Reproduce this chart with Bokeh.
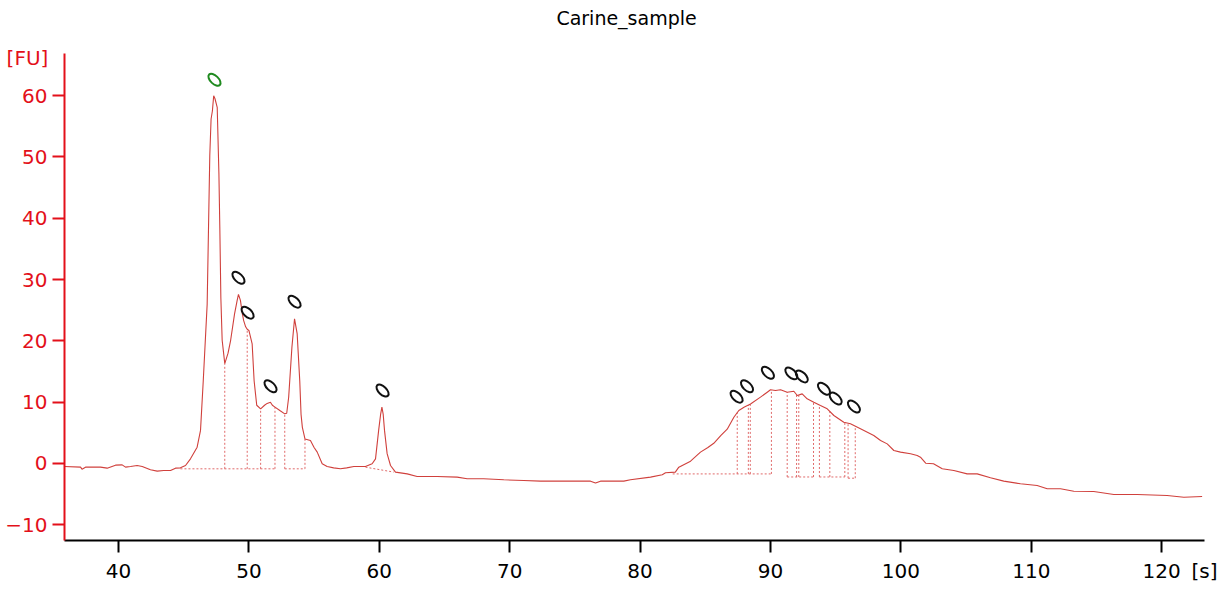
import numpy as np
from bokeh.plotting import figure
from bokeh.models import Range1d, Label, FixedTicker
from bokeh.embed import file_html
from bokeh.resources import INLINE

# ---- data ----
time_s = [35.86, 37.09, 37.2, 37.47, 38.62, 39.13, 39.77, 40.28, 40.54, 40.92, 41.43, 41.82,
          42.45, 42.97, 43.47, 43.99, 44.37, 44.75, 45.14, 45.52, 46.03, 46.29, 46.5, 46.8,
          47.0, 47.1, 47.2, 47.3, 47.4, 47.57, 47.7, 47.77, 47.85, 47.95, 48.15, 48.4, 48.6,
          48.9, 49.1, 49.2, 49.35, 49.5, 49.6, 49.75, 49.87, 50.0, 50.25, 50.4, 50.6, 50.9,
          51.2, 51.4, 51.65, 51.8, 52.0, 52.4, 52.75, 52.9, 53.05, 53.3, 53.5, 53.7, 53.9,
          54.0, 54.1, 54.3, 54.72, 55.0, 55.24, 55.62, 56.0, 56.5, 57.02, 57.5, 58.05, 58.94,
          59.45, 59.71, 59.95, 60.1, 60.2, 60.3, 60.4, 60.6, 60.86, 61.24, 62.14, 62.9, 64.44,
          65.97, 66.74, 68.0, 69.55, 71.08, 72.36, 76.2, 76.58, 76.96, 78.75, 79.26, 80.8,
          81.7, 81.95, 82.7, 82.97, 83.87, 84.63, 85.2, 85.65, 86.2, 86.68, 87.19, 87.57,
          88.0, 88.47, 89.23, 89.75, 90.0, 90.38, 90.77, 91.28, 91.79, 92.05, 92.43, 92.81,
          93.32, 93.83, 94.35, 94.86, 95.62, 96.13, 96.9, 97.92, 98.44, 98.95, 99.46, 99.97,
          100.74, 101.25, 101.5, 101.9, 102.5, 103.17, 104.06, 105.08, 105.85, 106.87,
          107.89, 109.17, 110.45, 111.22, 112.24, 113.26, 114.79, 116.33, 118.12, 120.42,
          121.7, 123.1]
fu = [-0.5, -0.6, -0.93, -0.6, -0.6, -0.76, -0.27, -0.22, -0.6, -0.49, -0.33, -0.49,
      -1.03, -1.25, -1.14, -1.14, -0.76, -0.71, -0.33, 0.76, 2.66, 5.4, 13.5, 26.0,
      50.2, 56.2, 57.5, 60.0, 59.5, 58.1, 47.3, 38.5, 27.0, 20.1, 16.3, 18.0, 20.1,
      24.4, 26.6, 27.6, 26.6, 24.4, 23.3, 22.3, 21.9, 21.7, 19.5, 13.5, 9.5, 8.9,
      9.5, 9.8, 10.0, 9.5, 9.2, 8.6, 8.1, 8.2, 10.8, 19.0, 23.6, 21.2, 13.5,
      8.0, 5.9, 4.0, 3.75, 2.6, 1.85, -0.05, -0.49, -0.71, -0.87, -0.71, -0.49, -0.49,
      -0.05, 0.76, 5.4, 8.0, 9.2, 8.0, 5.4, 1.6, -0.33, -1.41, -1.69, -2.12, -2.12,
      -2.23, -2.5, -2.5, -2.66, -2.77, -2.88, -2.88, -3.2, -2.88, -2.88, -2.66, -2.23,
      -1.85, -1.52, -1.41, -0.6, 0.38, 1.85, 2.6, 3.3, 4.6, 5.6, 7.55, 8.65,
      9.2, 9.7, 10.82, 11.63, 12.02, 11.9, 12.02, 11.63, 11.79, 11.09, 11.36, 10.55,
      10.0, 9.46, 8.92, 7.83, 6.74, 6.47, 5.66, 4.57, 3.75, 3.2, 2.12, 1.85,
      1.58, 1.31, 1.03, 0.05, -0.05, -0.87, -1.14, -1.69, -1.69, -2.34,
      -2.88, -3.31, -3.59, -4.13, -4.13, -4.52, -4.57, -5.06, -5.06, -5.22,
      -5.5, -5.38]

# peak markers
peak_t = [47.36, 49.2, 49.9, 53.5, 51.66, 60.25, 87.4, 88.2, 89.8, 91.6, 92.4, 94.1, 95.0, 96.4]
peak_fu = [62.6, 30.3, 24.6, 26.4, 12.6, 11.9, 10.9, 12.6, 14.8, 14.7, 14.2, 12.2, 10.6, 9.3]
peak_kind = ["green"] + ["black"] * 13

# integration boundaries (vertical dotted lines): time and baseline level
bound_t = [48.15, 49.87, 50.9, 52.0, 52.75, 54.3,
           87.45, 88.3, 88.45, 90.07, 91.28, 92.0, 92.17, 93.3, 93.75, 94.55, 95.7, 95.95, 96.5]
bound_base = [-0.87, -0.87, -0.87, -0.87, -0.87, -0.87,
              -1.7, -1.7, -1.7, -1.7, -2.2, -2.2, -2.2, -2.2, -2.2, -2.2, -2.2, -2.4, -2.4]

# integration baselines (dotted)
base_t0 = [44.75, 52.75, 58.94, 82.5, 91.28, 93.75, 95.95]
base_t1 = [52.0, 54.3, 61.1, 90.07, 93.3, 95.7, 96.5]
base_y0 = [-0.87, -0.87, -0.6, -1.7, -2.2, -2.2, -2.4]
base_y1 = [-0.87, -0.87, -1.4, -1.7, -2.2, -2.2, -2.4]

x_ticks = [40, 50, 60, 70, 80, 90, 100, 110, 120]
y_ticks = [-10, 0, 10, 20, 30, 40, 50, 60]
x_axis_span = (35.86, 123.25)
y_axis_span = (-12.56, 66.88)

title_text = "Carine_sample"
y_unit = "[FU]"
x_unit = "[s]"

RED_AX = "#e3101a"
TRACE = "#d0403c"
DOTTED = "#e06a6a"
FONT = "DejaVu Sans"

# the frame covers the whole canvas; axes are pinned with fixed_location
p = figure(width=1221, height=590, output_backend="svg", toolbar_location=None,
           x_range=Range1d(30.951, 124.586), y_range=Range1d(-20.72, 75.53),
           min_border_left=0, min_border_right=0, min_border_top=0, min_border_bottom=0)
p.grid.visible = False
p.outline_line_color = None
p.background_fill_color = "white"
p.border_fill_color = "white"

xa = p.xaxis[0]
xa.fixed_location = y_axis_span[0]
xa.bounds = x_axis_span
xa.ticker = FixedTicker(ticks=x_ticks)
xa.axis_line_color = "black"
xa.axis_line_width = 2
xa.major_tick_line_color = "black"
xa.major_tick_line_width = 2
xa.major_tick_out = 12
xa.major_tick_in = 0
xa.minor_tick_line_color = None
xa.major_label_text_font = FONT
xa.major_label_text_font_size = "20px"
xa.major_label_text_color = "black"
xa.major_label_standoff = 12

ya = p.yaxis[0]
ya.fixed_location = x_axis_span[0]
ya.bounds = y_axis_span
ya.ticker = FixedTicker(ticks=y_ticks)
ya.axis_line_color = RED_AX
ya.axis_line_width = 2
ya.major_tick_line_color = RED_AX
ya.major_tick_line_width = 2
ya.major_tick_out = 12
ya.major_tick_in = 0
ya.minor_tick_line_color = None
ya.major_label_text_font = FONT
ya.major_label_text_font_size = "20px"
ya.major_label_text_color = RED_AX
ya.major_label_standoff = 5

# dotted integration boundaries
tops = np.interp(bound_t, time_s, fu)
p.segment(x0=bound_t, y0=bound_base, x1=bound_t, y1=tops,
          line_color=DOTTED, line_width=1, line_dash="2 2")
p.segment(x0=base_t0, y0=base_y0, x1=base_t1, y1=base_y1,
          line_color=DOTTED, line_width=1, line_dash="2 2")

# trace
p.line(time_s, fu, line_color=TRACE, line_width=1.1)

# peak markers
colors = ["#1f8a1f" if k == "green" else "#111111" for k in peak_kind]
p.ellipse(x=peak_t, y=peak_fu, width=8, height=15, angle=0.8,
          width_units="screen", height_units="screen",
          fill_color=None, line_color=colors, line_width=2)

# title and unit labels
p.add_layout(Label(x=78.96, y=72.6, text=title_text, text_font=FONT, text_font_size="19px",
                   text_color="black", text_align="center", text_baseline="middle"))
p.add_layout(Label(x=33.02, y=66.23, text=y_unit, text_font=FONT, text_font_size="20px",
                   text_color=RED_AX, text_align="center", text_baseline="middle"))
p.add_layout(Label(x=123.28, y=-17.62, text=x_unit, text_font=FONT, text_font_size="20px",
                   text_color="black", text_align="center", text_baseline="middle"))

open("out.html", "w").write(file_html(p, INLINE))
